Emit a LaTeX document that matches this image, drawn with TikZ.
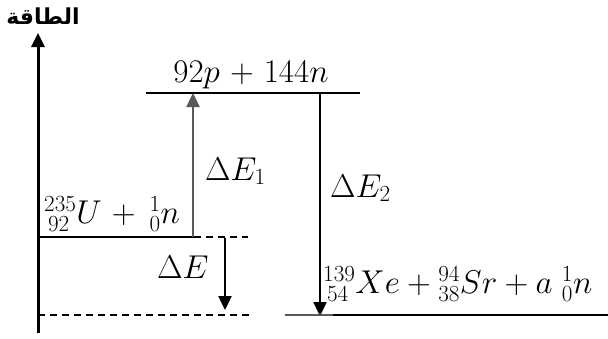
\documentclass[tikz,border=0pt]{standalone}
\usepackage{fix-cm}
\usepackage{fontspec}
\newfontfamily\arabicfont[Script=Arabic]{DejaVu Sans}
\TeXXeTstate=1
\usetikzlibrary{arrows.meta}
\newcommand\widebin{\medmuskip=5.5mu\relax}
\begin{document}
\begin{tikzpicture}[x=1pt,y=-1pt,
  level/.style={line width=2.6pt},
  dashlevel/.style={line width=2pt,dash pattern=on 7pt off 5pt},
  arr/.style={line width=2.4pt,-{Triangle[length=14pt,width=13pt]}},
  lbl/.style={font=\fontsize{33}{38}\selectfont, inner sep=0pt}]
\useasboundingbox (0,0) rectangle (608,338);
% axis
\coordinate (axb) at (38,333);
\coordinate (axt) at (38,33);
\draw[arr,line width=3pt] (axb) -- (axt);
\node[font=\arabicfont\bfseries\fontsize{22}{24}\selectfont, inner sep=0pt] (title) at (43,16) {\beginR الطاقة\endR};
% U level
\coordinate (u1) at (38,237);
\coordinate (u2) at (194,237);
\coordinate (ud) at (248,237);
\draw[level] (u1) -- (u2);
\draw[dashlevel] (u2) -- (ud);
% top level
\coordinate (t1) at (146,93);
\coordinate (t2) at (360,93);
\draw[level] (t1) -- (t2);
\coordinate (ta) at (193,93);
\coordinate (ub) at (193,237);
\draw[arr,gray!70!black] (ub) -- (ta);
% dE2
\coordinate (e2a) at (320,93);
\coordinate (e2b) at (320,316);
\draw[arr] (e2a) -- (e2b);
% bottom dashed
\coordinate (b1) at (38,315);
\coordinate (b2) at (252,315);
\draw[dashlevel] (b1) -- (b2);
% bottom level
\coordinate (f1) at (285,315);
\coordinate (f2) at (333,315);
\coordinate (f3) at (608,315);
\draw[level,gray!70!black] (f1) -- (f2);
\draw[level] (f2) -- (f3);
% dE
\coordinate (ea) at (225,238);
\coordinate (eb) at (225,310);
\draw[arr] (ea) -- (eb);
% labels
\node[lbl,anchor=base] (top) at (251,82) {$\widebin 92p+144n$};
\node[lbl,anchor=base west] (de1) at (205,180) {$\Delta E_1$};
\node[lbl,anchor=base west] (de2) at (330,197) {$\Delta E_2$};
\node[lbl,anchor=base west] (de) at (157,278) {$\Delta E$};
\node[lbl,anchor=base west] (ueq) at (44,223) {$\widebin {}^{235}_{\,92}U+{}^{\,1}_{\,0}n$};
\node[lbl,anchor=base west] (feq) at (323,293) {${}^{139}_{\,54}Xe+{}^{94}_{38}Sr+a\,{}^{\,1}_{\,0}n$};
\end{tikzpicture}
\end{document}
